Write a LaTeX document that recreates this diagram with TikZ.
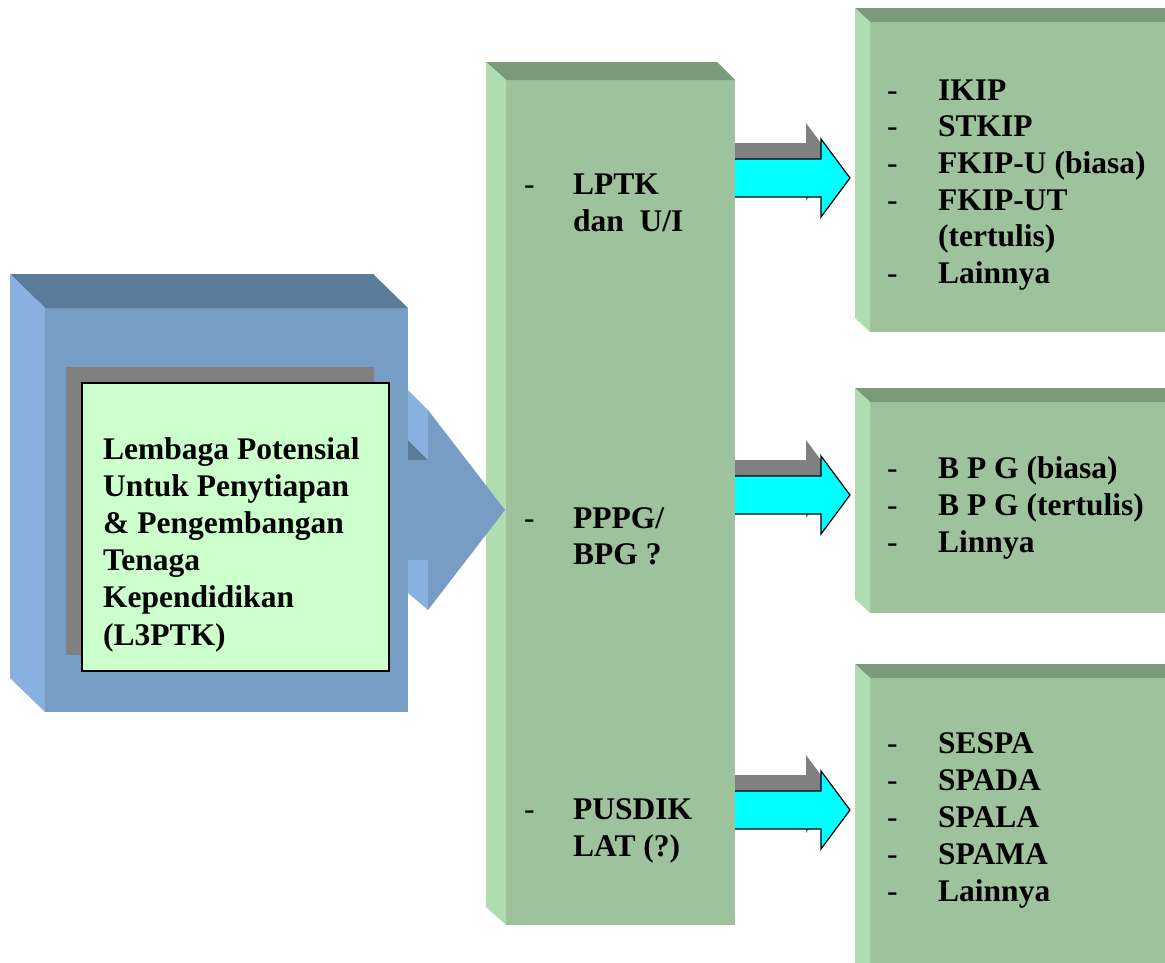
\documentclass[tikz,border=0pt]{standalone}
\usepackage{fontspec}
\setmainfont{Liberation Serif}
\usetikzlibrary{calc,positioning}
\definecolor{lkblue}{HTML}{779DC5}
\definecolor{lkbluetop}{HTML}{5B7B9A}
\definecolor{lkblueside}{HTML}{88B1DF}
\definecolor{lkgreen}{HTML}{9DC29C}
\definecolor{lkgreentop}{HTML}{7A9A7A}
\definecolor{lkgreenside}{HTML}{B0DDB0}
\definecolor{lkpale}{HTML}{CCFFCC}
\definecolor{lkshadow}{HTML}{808080}
\definecolor{lkcyan}{HTML}{00FFFF}
\tikzset{
  lk face/.style={inner sep=0pt, outer sep=0pt, anchor=north west},
  lk text/.style={font=\fontsize{31.5}{37.3}\selectfont\bfseries, text=black,
    inner sep=0pt, anchor=base west},
  lk dash/.style={font=\fontsize{31.5}{37.3}\selectfont, text=black,
    inner sep=0pt, anchor=base west},
  lk arrow/.style={draw=black, line width=1.2pt, line join=miter}
}

\begin{document}
\begin{tikzpicture}[x=1pt, y=-1pt]
  \useasboundingbox (0,0) rectangle (1165,962);
  \clip (0,0) rectangle (1165,962);
  % source block
  \node[lk face, fill=lkblue, minimum width=363pt, minimum height=404pt] (src) at (45,308) {};
  \fill[lkbluetop] (src.north west) -- ++(-35,-34) -- ($(src.north east)+(-35,-34)$) -- (src.north east) -- cycle;
  \fill[lkblueside] (src.north west) -- ++(-35,-34) -- ($(src.south west)+(-35,-34)$) -- (src.south west) -- cycle;
  \node[lk face, fill=lkshadow, minimum width=308pt, minimum height=288pt] (shd) at (66,367) {};
  \node[lk face, fill=lkpale, draw=black, line width=1.2pt, minimum width=307pt, minimum height=288pt] (name) at (82,383) {};
  \foreach \t [count=\i] in {Lembaga Potensial, Untuk Penytiapan, \& Pengembangan, Tenaga, Kependidikan, (L3PTK)}
    \node[lk text] (src l\i) at (103,{459+37.2*(\i-1)}) {\t};
  % middle column
  \node[lk face, fill=lkgreen, minimum width=229pt, minimum height=845pt] (col) at (506,80) {};
  \fill[lkgreentop] (col.north west) -- ++(-20,-18) -- ($(col.north east)+(-18,-18)$) -- (col.north east) -- cycle;
  \fill[lkgreenside] (col.north west) -- ++(-20,-18) -- ($(col.south west)+(-20,-18)$) -- (col.south west) -- cycle;
  \node[lk dash] (c1d) at (524,194) {-};
  \node[lk text] (c1a) at (573,194) {LPTK};
  \node[lk text] (c1b) at (573,231) {dan~~U/I};
  \node[lk dash] (c2d) at (524,528) {-};
  \node[lk text] (c2a) at (573,528) {PPPG/};
  \node[lk text] (c2b) at (573,564) {BPG ?};
  \node[lk dash] (c3d) at (524,819) {-};
  \node[lk text] (c3a) at (573,819) {PUSDIK};
  \node[lk text] (c3b) at (573,856) {LAT (?)};
  % blue arrow
  \begin{scope}[shift={(src.east)}]
    \fill[lkblueside] (0,-120) -- (20,-100) -- (20,-50) -- (0,-70) -- cycle;
    \fill[lkbluetop] (0,-70) -- (20,-50) -- (0,-50) -- cycle;
    \fill[lkblueside] (0,50) -- (20,50) -- (20,100) -- (0,83) -- cycle;
    \fill[lkblue] (0,-50) -- (20,-50) -- (20,-100) -- (97,0) -- (20,100) -- (20,50) -- (0,50) -- cycle;
  \end{scope}
  % target blocks
  \foreach \n/\y/\h in {t1/22/310, t2/402/211, t3/678/300} {
    \node[lk face, fill=lkgreen, minimum width=310pt, minimum height=\h pt] (\n) at (870,\y) {};
    \fill[lkgreentop] (\n.north west) -- ++(-15,-14) -- ($(\n.north east)+(-15,-14)$) -- (\n.north east) -- cycle;
    \fill[lkgreenside] (\n.north west) -- ++(-15,-14) -- ($(\n.south west)+(-15,-14)$) -- (\n.south west) -- cycle;
  }
  \foreach \t [count=\i] in {IKIP, STKIP, FKIP-U (biasa), FKIP-UT, (tertulis), Lainnya}
    \node[lk text] (t1 l\i) at (938,{100+36.7*(\i-1)}) {\t};
  \foreach \i in {1,2,3,4,6}
    \node[lk dash] (t1 d\i) at (887,{100+36.7*(\i-1)}) {-};
  \foreach \t [count=\i] in {B P G (biasa), B P G (tertulis), Linnya} {
    \node[lk text] (t2 l\i) at (938,{478+37.3*(\i-1)}) {\t};
    \node[lk dash] (t2 d\i) at (887,{478+37.3*(\i-1)}) {-};
  }
  \foreach \t [count=\i] in {SESPA, SPADA, SPALA, SPAMA, Lainnya} {
    \node[lk text] (t3 l\i) at (938,{753+37.2*(\i-1)}) {\t};
    \node[lk dash] (t3 d\i) at (887,{753+37.2*(\i-1)}) {-};
  }
  % cyan arrows
  \foreach \n/\y in {t1/178, t2/495, t3/810} {
    \coordinate (y\n) at (0,\y);
    \coordinate (a\n) at (col.east |- y\n);
    \begin{scope}[shift={(a\n)}]
      \fill[lkshadow] (0,-35) -- (71,-35) -- (71,-55) -- (100,-16) -- (71,23) -- (71,3) -- (0,3) -- cycle;
      \fill[lkcyan] (0,-19) -- (86,-19) -- (86,-39) -- (115,0) -- (86,39) -- (86,19) -- (0,19) -- cycle;
      \draw[lk arrow] (0,-19) -- (86,-19) -- (86,-39) -- (115,0) -- (86,39) -- (86,19) -- (0,19);
    \end{scope}
  }
\end{tikzpicture}
\end{document}
